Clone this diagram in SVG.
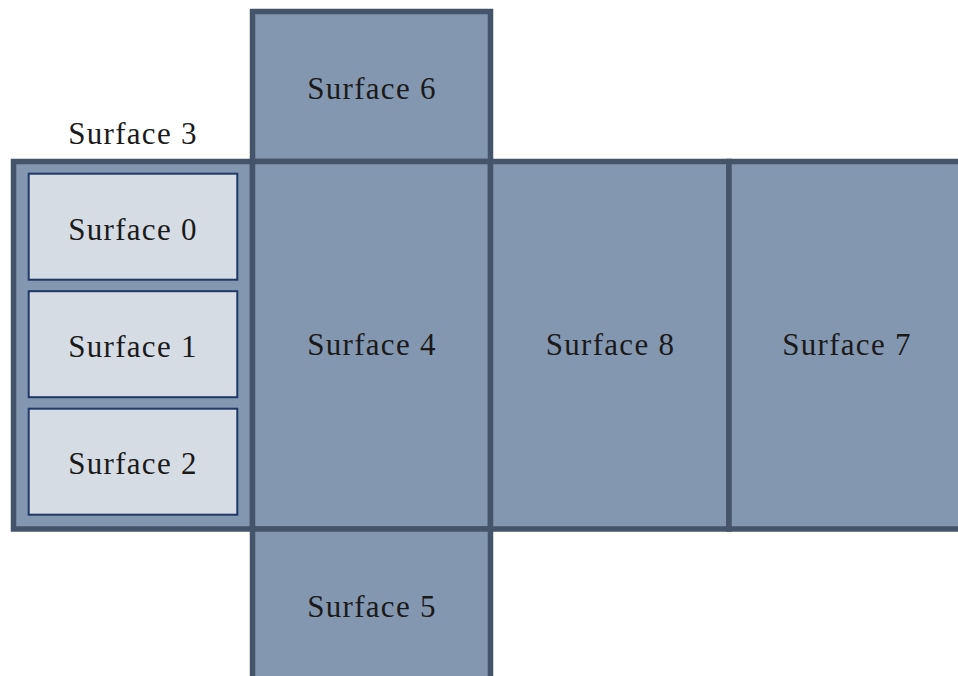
<svg xmlns="http://www.w3.org/2000/svg" width="958" height="676" viewBox="0 0 958 676">
  <style>
    .face { fill: #8497b0; stroke: #44546a; stroke-width: 5.5; }
    .sub { fill: #d6dce4; stroke: #1f3864; stroke-width: 2; }
    .lbl { font-family: "Liberation Serif", "DejaVu Serif", serif; font-size: 31px; letter-spacing: 1.3px; fill: #1a1a1a; text-anchor: middle; }
  </style>
  <rect width="958" height="676" fill="#ffffff"/>

  <!-- left face holding the three sub-surfaces -->
  <g id="surface3">
    <rect class="face" x="13.5" y="161.5" width="239" height="367.5"/>
    <text class="lbl" x="133" y="144">Surface 3</text>
  </g>
  <g id="surface0">
    <rect class="sub" x="28.7" y="173.7" width="208.6" height="106"/>
    <text class="lbl" x="133" y="239.5">Surface 0</text>
  </g>
  <g id="surface1">
    <rect class="sub" x="28.7" y="291.2" width="208.6" height="106"/>
    <text class="lbl" x="133" y="356.5">Surface 1</text>
  </g>
  <g id="surface2">
    <rect class="sub" x="28.7" y="408.7" width="208.6" height="106"/>
    <text class="lbl" x="133" y="473.5">Surface 2</text>
  </g>

  <!-- unfolded box net -->
  <g id="surface6">
    <rect class="face" x="252.5" y="11.5" width="238" height="150"/>
    <text class="lbl" x="372" y="98.5">Surface 6</text>
  </g>
  <g id="surface4">
    <rect class="face" x="252.5" y="161.5" width="238" height="367.5"/>
    <text class="lbl" x="372" y="355">Surface 4</text>
  </g>
  <g id="surface8">
    <rect class="face" x="490.5" y="161.5" width="238.5" height="367.5"/>
    <text class="lbl" x="610.5" y="355">Surface 8</text>
  </g>
  <g id="surface7">
    <rect class="face" x="729" y="161.5" width="238" height="367.5"/>
    <text class="lbl" x="847" y="355">Surface 7</text>
  </g>
  <g id="surface5">
    <rect class="face" x="252.5" y="529" width="238" height="150"/>
    <text class="lbl" x="372" y="616.5">Surface 5</text>
  </g>

  <g id="connectors"></g>
</svg>
